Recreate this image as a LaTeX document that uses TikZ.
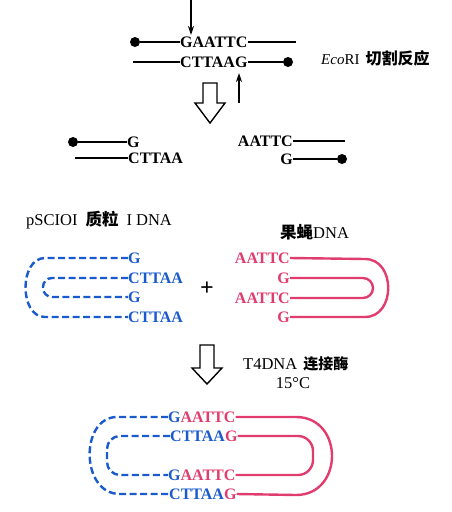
\documentclass[tikz,border=0pt]{standalone}
\usepackage{fontspec}
\setmainfont{Liberation Serif}
\newfontfamily\cjk{Noto Sans CJK SC}
\usetikzlibrary{arrows.meta}
\definecolor{bluedna}{RGB}{25,90,205}
\definecolor{reddna}{RGB}{225,60,110}
\begin{document}
\begin{tikzpicture}[x=1pt,y=-1pt,
  seq/.style={font=\fontsize{16}{17}\selectfont\bfseries, inner sep=0pt, text height=10.5pt, text depth=0pt},
  lbl/.style={font=\fontsize{15}{17}\selectfont, inner sep=0pt},
  lblb/.style={font=\fontsize{16.5}{18}\selectfont, inner sep=0pt},
  blk/.style={line width=1.8pt, black},
  dotc/.style={circle, fill=black, inner sep=0pt, minimum size=10pt},
  bdash/.style={line width=2.4pt, bluedna, dash pattern=on 7pt off 3.5pt},
  rline/.style={line width=2.4pt, reddna},
  hollow/.style={line width=1.4pt, black, fill=white, line join=miter},
  cut/.style={line width=1.6pt, black, -{Stealth[length=9pt,width=6pt]}}
]
\useasboundingbox (0,0) rectangle (452,512);

% ---- top: EcoRI site
\node[seq, anchor=west] (t1) at (180,42) {GAATTC};
\node[seq, anchor=west] (t2) at (180,62) {CTTAAG};
\node[dotc] (d1) at (135,42) {};
\coordinate (e1) at (296,42);
\coordinate (s2) at (133,62);
\node[dotc] (d2) at (288,62) {};
\draw[blk] (d1) -- (t1.west);
\draw[blk] (t1.east) -- (e1);
\draw[blk] (s2) -- (t2.west);
\draw[blk] (t2.east) -- (d2);
\coordinate (k1) at (191,0);
\coordinate (k1e) at (191,35);
\draw[cut] (k1) -- (k1e);
\coordinate (k2) at (239,103);
\coordinate (k2e) at (239,73);
\draw[cut] (k2) -- (k2e);
\node[lbl, anchor=west] (eco) at (321,58) {\textit{Eco}RI\hspace{6pt}{\cjk\bfseries\fontsize{16}{17}\selectfont 切割反应}};

% hollow arrow 1
\draw[hollow] (203,83) -- (217,83) -- (217,103) -- (225,103) -- (210,123) -- (195,103) -- (203,103) -- cycle;

% ---- cut fragments
\node[dotc] (d3) at (73,142) {};
\node[seq, anchor=west] (f1) at (127,142) {G};
\coordinate (s4) at (75,158);
\node[seq, anchor=west] (f2) at (128,158) {CTTAA};
\draw[blk] (d3) -- (f1.west);
\draw[blk] (s4) -- (f2.west);
\node[seq, anchor=east] (f3) at (293,141) {AATTC};
\coordinate (e3) at (345,141);
\node[seq, anchor=east] (f4) at (293,159) {G};
\node[dotc] (d4) at (342,159) {};
\draw[blk] (f3.east) -- (e3);
\draw[blk] (f4.east) -- (d4);

% ---- labels
\node[lblb, anchor=west] (psc) at (26,220) {pSCIOI\hspace{8pt}{\cjk\bfseries 质粒}\hspace{8pt}I DNA};
\node[lblb, anchor=west] (fly) at (280,232) {{\cjk\bfseries 果蝇}DNA};

% ---- plasmid (blue)
\begin{scope}[bluedna]
\node[seq, anchor=west] (b1) at (128,258) {G};
\node[seq, anchor=west] (b2) at (128,278) {CTTAA};
\node[seq, anchor=west] (b3) at (128,297) {G};
\node[seq, anchor=west] (b4) at (128,317) {CTTAA};
\end{scope}
\draw[bdash] (b1.west) -- (45,258) .. controls (19,258) and (19,317) .. (45,317) -- (b4.west);
\draw[bdash, rounded corners=9pt] (b2.west) -- (43,278) -- (43,297) -- (b3.west);

\node[font=\fontsize{24}{24}\selectfont\bfseries, inner sep=0pt] (plus) at (207,289) {+};

% ---- fly DNA (red)
\begin{scope}[reddna]
\node[seq, anchor=east] (r1) at (290,258) {AATTC};
\node[seq, anchor=east] (r2) at (290,278) {G};
\node[seq, anchor=east] (r3) at (290,298) {AATTC};
\node[seq, anchor=east] (r4) at (290,317) {G};
\end{scope}
\draw[rline] (r1.east) -- (365,259) .. controls (396,259) and (396,317) .. (365,317) -- (r4.east);
\draw[rline, rounded corners=10pt] (r2.east) -- (373,278) -- (373,298) -- (r3.east);

% hollow arrow 2
\draw[hollow] (200,345) -- (214,345) -- (214,368) -- (222,368) -- (207,384) -- (192,368) -- (200,368) -- cycle;
\node[lblb, anchor=west] (t4) at (243,364) {T4DNA\hspace{6pt}{\cjk\bfseries\fontsize{15}{17}\selectfont 连接酶}};
\node[lblb] (tmp) at (293,383) {15°C};

% ---- recombinant
\node[seq, anchor=west] (c1) at (168,417) {\textcolor{bluedna}{G}\textcolor{reddna}{AATTC}};
\node[seq, anchor=west] (c2) at (170,436) {\textcolor{bluedna}{CTTAA}\textcolor{reddna}{G}};
\node[seq, anchor=west] (c3) at (168,475) {\textcolor{bluedna}{G}\textcolor{reddna}{AATTC}};
\node[seq, anchor=west] (c4) at (169,494) {\textcolor{bluedna}{CTTAA}\textcolor{reddna}{G}};
\draw[bdash] (c1.west) -- (117,417) .. controls (80,417) and (80,494) .. (120,494) -- (c4.west);
\draw[bdash, rounded corners=13pt] (c2.west) -- (107,436) -- (107,475) -- (c3.west);
\draw[rline] (c1.east) -- (296,417) .. controls (344,417) and (344,495) .. (296,495) -- (c4.east);
\draw[rline, rounded corners=15pt] (c2.east) -- (313,436) -- (313,475) -- (c3.east);
\end{tikzpicture}
\end{document}
